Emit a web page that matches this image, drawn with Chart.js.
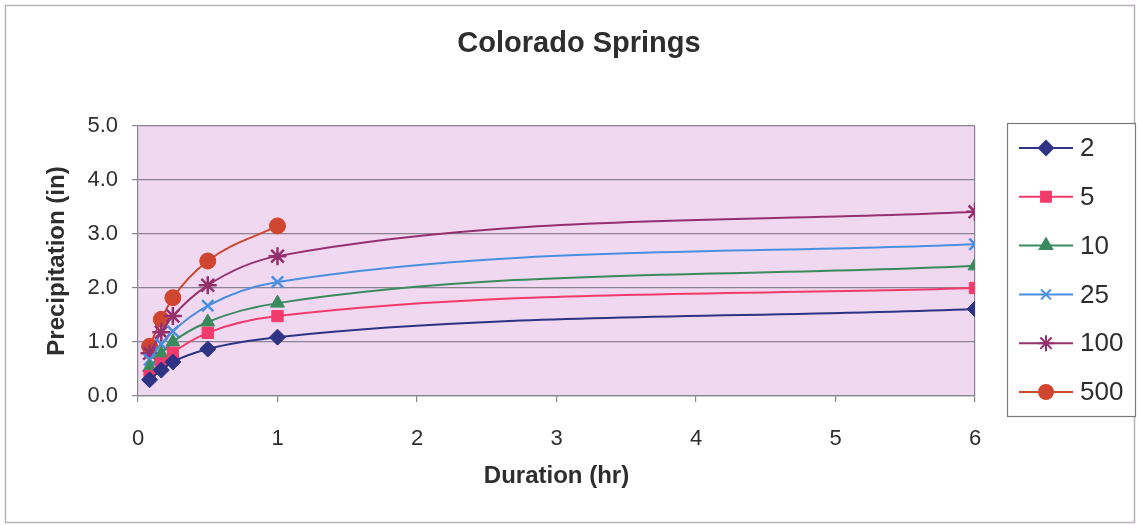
<!DOCTYPE html>
<html>
<head>
<meta charset="utf-8">
<title>Colorado Springs</title>
<script src="https://cdn.jsdelivr.net/npm/chart.js@4.4.1/dist/chart.umd.min.js"></script>
<style>
  html, body { margin: 0; padding: 0; background: #fff; }
  #wrap { width: 1139px; height: 525px; }
</style>
</head>
<body>
<div id="wrap"><canvas id="precipChart" width="1139" height="525"></canvas></div>
<script>
// durations in hours (5, 10, 15, 30 min, 1 hr, 6 hr)
const durations = [0.083, 0.167, 0.25, 0.5, 1, 6];

// return periods (years) and depths (in)
const returnPeriods = ['2', '5', '10', '25', '100', '500'];
const depth2   = [0.30, 0.48, 0.63, 0.87, 1.09, 1.61];
const depth5   = [0.37, 0.60, 0.80, 1.17, 1.48, 2.00];
const depth10  = [0.53, 0.78, 1.00, 1.37, 1.72, 2.41];
const depth25  = [0.67, 0.96, 1.20, 1.67, 2.11, 2.81];
const depth100 = [0.79, 1.18, 1.48, 2.05, 2.59, 3.41];
const depth500 = [0.92, 1.42, 1.82, 2.50, 3.15];

const yTicks = [0, 1, 2, 3, 4, 5];
const xTicks = [0, 1, 2, 3, 4, 5, 6];

const seriesValues = [depth2, depth5, depth10, depth25, depth100, depth500];
const colors = ['#2e3384', '#f23a6c', '#3a8a5e', '#4a8ee0', '#94306e', '#cf4530'];
const markers = ['rectRot', 'rect', 'triangle', 'crossRot', 'star', 'circle'];
const markerSize = [8, 8, 8, 8, 9, 8];

const FONT = "'Liberation Sans', Arial, sans-serif";
const GRID = '#8a8290';
const TEXT = '#2e2e2e';

const datasets = returnPeriods.map((rp, i) => ({
  label: rp,
  data: seriesValues[i].map((v, j) => ({ x: durations[j], y: v })),
  borderColor: colors[i],
  backgroundColor: colors[i],
  pointBackgroundColor: colors[i],
  pointBorderColor: colors[i],
  pointStyle: markers[i],
  pointRadius: markerSize[i],
  pointBorderWidth: (markers[i] === 'crossRot' || markers[i] === 'star') ? 2.5 : 1,
  borderWidth: 2,
  cubicInterpolationMode: 'monotone',
  fill: false
}));

// plot background, outer frame and title
const frame = {
  id: 'frame',
  beforeDraw(chart) {
    const { ctx, chartArea: a } = chart;
    ctx.save();
    ctx.fillStyle = '#fff';
    ctx.fillRect(0, 0, chart.width, chart.height);
    ctx.strokeStyle = '#b8b0bc';
    ctx.lineWidth = 1.5;
    ctx.strokeRect(5.5, 5.5, chart.width - 10, chart.height - 8);
    ctx.fillStyle = '#f0d9f0';
    ctx.fillRect(a.left, a.top, a.right - a.left, a.bottom - a.top);
    ctx.fillStyle = TEXT;
    ctx.font = 'bold 29px ' + FONT;
    ctx.textAlign = 'center';
    ctx.textBaseline = 'alphabetic';
    ctx.fillText('Colorado Springs', 579, 52);
    ctx.restore();
  }
};

// boxed legend on the right: line with marker, then label
const sideLegend = {
  id: 'sideLegend',
  afterDraw(chart) {
    const { ctx } = chart;
    const box = { x: 1007, y: 123, w: 128, h: 293 };
    ctx.save();
    ctx.fillStyle = '#fff';
    ctx.fillRect(box.x, box.y, box.w, box.h);
    ctx.strokeStyle = '#7a7a7a';
    ctx.lineWidth = 1.2;
    ctx.strokeRect(box.x + 0.5, box.y + 0.5, box.w, box.h);
    chart.data.datasets.forEach((ds, i) => {
      const cy = box.y + 25 + i * 48.8;
      ctx.strokeStyle = ds.borderColor;
      ctx.lineWidth = 2;
      ctx.beginPath();
      ctx.moveTo(box.x + 12, cy);
      ctx.lineTo(box.x + 66, cy);
      ctx.stroke();
      ctx.fillStyle = ds.backgroundColor;
      Chart.helpers.drawPoint(ctx, {
        pointStyle: ds.pointStyle,
        radius: ds.pointRadius - 1,
        rotation: 0,
        borderWidth: ds.pointBorderWidth
      }, box.x + 39, cy);
      ctx.fillStyle = TEXT;
      ctx.font = '26px ' + FONT;
      ctx.textAlign = 'left';
      ctx.textBaseline = 'middle';
      ctx.fillText(ds.label, box.x + 73, cy + 1);
    });
    ctx.restore();
  }
};

new Chart(document.getElementById('precipChart').getContext('2d'), {
  type: 'line',
  data: { datasets },
  options: {
    responsive: false,
    animation: false,
    layout: { padding: { left: 0, right: 164, top: 126, bottom: 0 } },
    plugins: {
      legend: { display: false },
      tooltip: { enabled: false },
      title: { display: false }
    },
    scales: {
      x: {
        type: 'linear',
        min: 0,
        max: 6,
        afterFit(scale) { scale.height = 129; },
        afterBuildTicks(scale) { scale.ticks = xTicks.map(v => ({ value: v })); },
        ticks: {
          color: TEXT,
          font: { family: FONT, size: 22 },
          padding: 24
        },
        grid: {
          drawOnChartArea: true,
          color: ctx => (ctx.tick && ctx.tick.value === 6) ? GRID : 'rgba(0,0,0,0)',
          tickColor: GRID,
          tickLength: 6,
          lineWidth: 1.2
        },
        border: { display: true, color: GRID, width: 1.2 },
        title: {
          display: true,
          text: 'Duration (hr)',
          color: TEXT,
          font: { family: FONT, size: 24, weight: 'bold' },
          padding: { top: 0, bottom: 34 }
        }
      },
      y: {
        min: 0,
        max: 5,
        afterFit(scale) { scale.width = 138; },
        afterBuildTicks(scale) { scale.ticks = yTicks.map(v => ({ value: v })); },
        ticks: {
          color: TEXT,
          font: { family: FONT, size: 22 },
          padding: 14,
          callback: v => v.toFixed(1)
        },
        grid: {
          color: GRID,
          tickColor: GRID,
          tickLength: 6,
          lineWidth: 1.2
        },
        border: { display: true, color: GRID, width: 1.2 },
        title: {
          display: true,
          text: 'Precipitation (in)',
          color: TEXT,
          font: { family: FONT, size: 24, weight: 'bold' },
          padding: { top: 43, bottom: 0 }
        }
      }
    }
  },
  plugins: [frame, sideLegend]
});
</script>
</body>
</html>
